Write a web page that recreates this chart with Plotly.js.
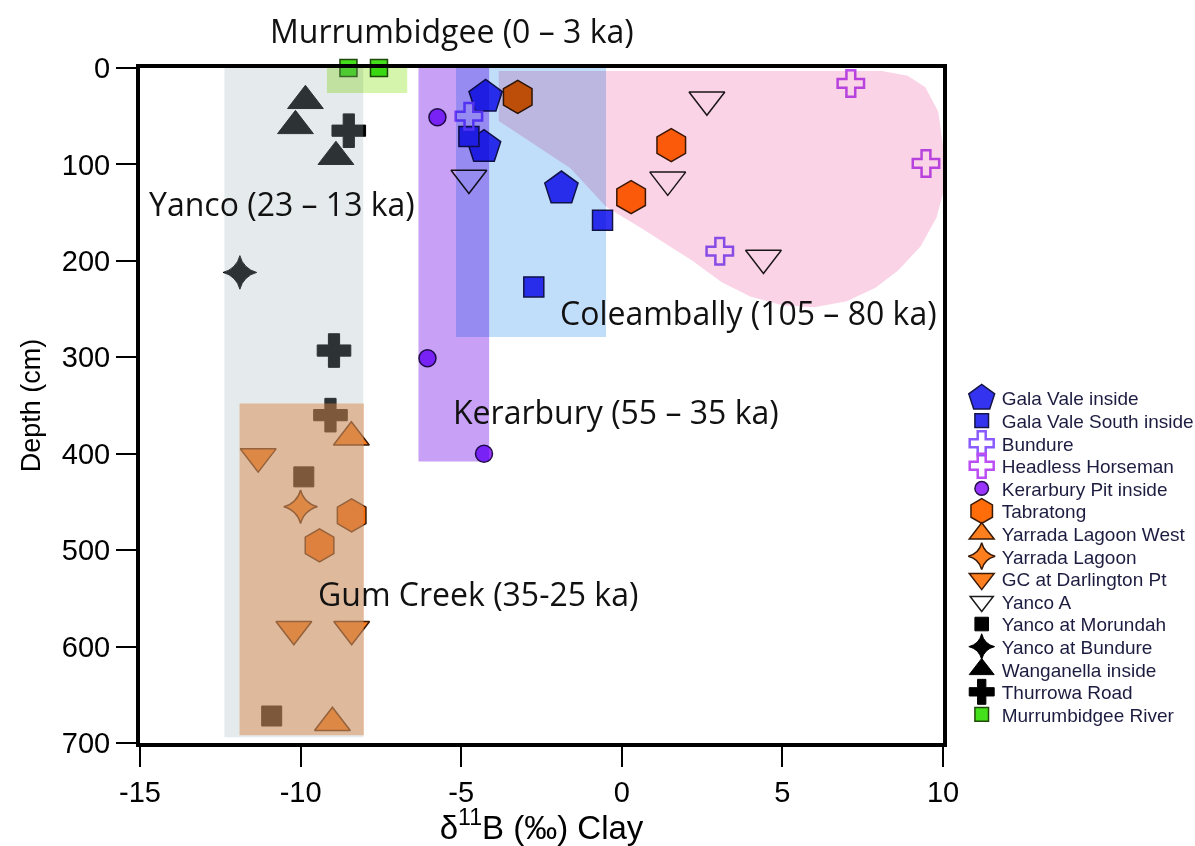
<!DOCTYPE html>
<html>
<head>
<meta charset="utf-8">
<script src="https://cdn.plot.ly/plotly-3.0.1.min.js"></script>
<style>
  html, body { margin: 0; padding: 0; background: #fff; }
  #chart { width: 1195px; height: 846px; }
</style>
</head>
<body>
<div id="chart"></div>
<script>
// ---------------- data ----------------
const galaValeX = [-4.24, -4.29, -1.88];
const galaValeY = [30, 82, 125];
const galaValeSouthX = [-4.76, -0.60, -2.74];
const galaValeSouthY = [71, 158, 227];
const bundureX = [-4.76, 3.05];
const bundureY = [50, 190];
const headlessX = [7.13, 9.47];
const headlessY = [16, 99];
const kerarburyX = [-5.74, -6.05, -4.29];
const kerarburyY = [51, 301, 400];
const tabratongX = [-3.24, 1.54, 0.29, -8.41, -9.41];
const tabratongY = [30, 80, 134, 464, 495];
const yarradaWestX = [-8.42, -9.01];
const yarradaWestY = [383, 679];
const yarradaX = [-10.0];
const yarradaY = [455];
const gcDarlingtonX = [-11.32, -10.21, -8.41];
const gcDarlingtonY = [403, 582, 582];
const yancoAX = [-4.76, 2.65, 1.43, 4.41];
const yancoAY = [114, 33, 116, 197];
const yancoMorundahX = [-9.9, -10.9];
const yancoMorundahY = [424, 672];
const yancoBundureX = [-11.89];
const yancoBundureY = [212];
const wanganellaX = [-9.85, -10.16, -8.9];
const wanganellaY = [34, 60, 92];
const thurrowaX = [-8.5, -8.96, -9.07];
const thurrowaY = [65, 293, 360];
const murrumbidgeeX = [-8.51, -7.56];
const murrumbidgeeY = [0, 0];

// age-group regions: [xmin, xmax, depth top, depth bottom]
const regionNames = ['Yanco', 'Murrumbidgee', 'Kerarbury', 'Coleambally', 'Gum Creek'];
const regionX0 = [-12.37, -9.18, -6.33, -5.16, -11.9];
const regionX1 = [-8.05, -6.68, -4.13, -0.49, -8.03];
const regionY0 = [0, -24, 0, 0, 348];
const regionY1 = [694, 26, 408, 279, 692];

// Headless Horseman / Tabratong field outline (pink blob)
const blobX = [-3.83, 8.1, 8.9, 9.45, 9.85, 10.0, 10.0, 9.8, 9.3, 8.6, 7.9, 7.0, 6.0, 5.0, 4.0, 3.1, 2.2, 1.5, 0.7, -0.49, -1.6, -3.83];
const blobY = [3, 3, 8, 20, 45, 80, 130, 155, 185, 210, 228, 242, 248, 246, 237, 222, 200, 185, 168, 144, 104, 55];

const groupLabels = ['Murrumbidgee (0 – 3 ka)', 'Yanco (23 – 13 ka)', 'Coleambally (105 – 80 ka)', 'Kerarbury (55 – 35 ka)', 'Gum Creek (35-25 ka)'];

// ---------------- traces ----------------
const legendScale = [];
function tr(name, x, y, symbol, size, color, lineColor, lineWidth, legScale) {
  legendScale.push(legScale);
  return {
    type: 'scatter', mode: 'markers', name: name, x: x, y: y, cliponaxis: false,
    marker: { symbol: symbol, size: size, color: color, line: { color: lineColor, width: lineWidth } }
  };
}
const traces = [
  tr('Gala Vale inside', galaValeX, galaValeY, 'pentagon', 35, '#3434f0', '#15154a', 1.5, 1.7),
  tr('Gala Vale South inside', galaValeSouthX, galaValeSouthY, 'square', 20, '#3434f0', '#15154a', 1.5, 0.85),
  tr('Bundure', bundureX, bundureY, 'cross-open', 22, '#8a5cff', '#8a5cff', 2.5, 1.25),
  tr('Headless Horseman', headlessX, headlessY, 'cross-open', 22, '#bb4ff5', '#bb4ff5', 2.5, 1.25),
  tr('Kerarbury Pit inside', kerarburyX, kerarburyY, 'circle', 17, '#9a35ff', '#24104a', 1.5, 0.85),
  tr('Tabratong', tabratongX, tabratongY, 'hexagon', 33, '#ff6c0a', '#3a1a05', 1.5, 1.55),
  tr('Yarrada Lagoon West', yarradaWestX, yarradaWestY, 'triangle-up', 31, '#ff7f1e', '#3a1a05', 1.5, 1.35),
  tr('Yarrada Lagoon', yarradaX, yarradaY, 'star-diamond', 24, '#ff7f1e', '#3a1a05', 1.5, 1.2),
  tr('GC at Darlington Pt', gcDarlingtonX, gcDarlingtonY, 'triangle-down', 31, '#ff7f1e', '#3a1a05', 1.5, 1.35),
  tr('Yanco A', yancoAX, yancoAY, 'triangle-down', 31, '#ffffff', '#1a1a1a', 1.5, 1.25),
  tr('Yanco at Morundah', yancoMorundahX, yancoMorundahY, 'square', 20, '#000000', '#000000', 1, 0.85),
  tr('Yanco at Bundure', yancoBundureX, yancoBundureY, 'star-diamond', 24, '#000000', '#000000', 1, 1.15),
  tr('Wanganella inside', wanganellaX, wanganellaY, 'triangle-up', 31, '#000000', '#000000', 1, 1.35),
  tr('Thurrowa Road', thurrowaX, thurrowaY, 'cross', 28, '#000000', '#000000', 1, 1.3),
  tr('Murrumbidgee River', murrumbidgeeX, murrumbidgeeY, 'square', 17, '#45e01c', '#1f4a0a', 1.5, 0.85)
];

// ---------------- shapes ----------------
const regionFill = ['rgb(160,182,190)', 'rgb(214,245,172)', 'rgb(200,160,246)', 'rgb(192,221,250)', 'rgb(215,130,65)'];
const regionOpacity = [0.28, 1, 1, 1, 0.48];
const regionBlend = ['normal', 'multiply', 'multiply', 'multiply', 'normal'];
const shapes = [];
const blends = [];
function addRect(i) {
  shapes.push({ type: 'rect', layer: 'above', xref: 'x', yref: 'y',
    x0: regionX0[i], x1: regionX1[i], y0: regionY0[i], y1: regionY1[i],
    fillcolor: regionFill[i], opacity: regionOpacity[i], line: { width: 0 } });
  blends.push(regionBlend[i]);
}
addRect(0); addRect(1); addRect(2); addRect(3);
let blobPath = 'M ' + blobX.map((x, i) => x + ',' + blobY[i]).join(' L ') + ' Z';
shapes.push({ type: 'path', layer: 'above', xref: 'x', yref: 'y', path: blobPath,
  fillcolor: 'rgb(250,211,230)', opacity: 1, line: { width: 0 } });
blends.push('multiply');
addRect(4);

// ---------------- annotations ----------------
const labelFont = { family: 'Open Sans, sans-serif', size: 32, color: '#111' };
function lab(text, x, y, yref) {
  return { text: text, x: x, y: y, xref: 'x', yref: yref, xanchor: 'center', yanchor: 'middle', showarrow: false, font: labelFont };
}
const annotations = [
  lab(groupLabels[0], -5.28, 1.056, 'paper'),
  lab(groupLabels[1], -10.59, 141, 'y'),
  lab(groupLabels[2], 3.94, 254, 'y'),
  lab(groupLabels[3], -0.17, 356, 'y'),
  lab(groupLabels[4], -4.49, 545, 'y')
];

const tickFont = { family: 'Liberation Sans, Arial, sans-serif', size: 29, color: '#000' };
const layout = {
  width: 1195, height: 846,
  margin: { l: 140, r: 252, t: 68, b: 103, pad: 0, autoexpand: false },
  paper_bgcolor: '#fff', plot_bgcolor: '#fff',
  showlegend: true,
  legend: {
    x: 1.0233, xanchor: 'left', y: 0.539, yanchor: 'top',
    font: { family: 'Liberation Sans, Arial, sans-serif', size: 19, color: '#1c1c40' },
    bgcolor: 'rgba(0,0,0,0)', borderwidth: 0
  },
  xaxis: {
    range: [-15, 10], tickvals: [-15, -10, -5, 0, 5, 10], ticktext: ['-15', '-10', '-5', '0', '5', '10'],
    showgrid: false, zeroline: false, showline: true, mirror: true, linewidth: 4, linecolor: '#000',
    ticks: 'outside', ticklen: 20, tickwidth: 2, tickcolor: '#000', tickfont: tickFont,
    title: { text: 'δ<sup>11</sup>B (‰) Clay', font: { family: 'Liberation Sans, Arial, sans-serif', size: 33, color: '#000' }, standoff: 10 }
  },
  yaxis: {
    range: [700, 0], tickvals: [0, 100, 200, 300, 400, 500, 600, 700],
    showgrid: false, zeroline: false, showline: true, mirror: true, linewidth: 4, linecolor: '#000',
    ticks: 'outside', ticklen: 20, tickwidth: 2, tickcolor: '#000', tickfont: tickFont,
    title: { text: 'Depth (cm)', font: { family: 'Liberation Sans, Arial, sans-serif', size: 27, color: '#000' }, standoff: 14 }
  },
  shapes: shapes,
  annotations: annotations
};

Plotly.newPlot('chart', traces, layout, { displayModeBar: false, staticPlot: true }).then(function (gd) {
  // blending of the shaded age regions (applied on the clipped shape group)
  gd.querySelectorAll('.shapelayer path').forEach(function (p) {
    const k = +p.getAttribute('data-index');
    const mode = blends[k];
    if (mode) {
      const g = p.parentNode && p.parentNode.classList && p.parentNode.classList.contains('shape-group') ? p.parentNode : p;
      g.style.mixBlendMode = mode;
    }
  });
  // tighter legend rows and reference-like legend symbol sizes
  const items = gd.querySelectorAll('.legend .traces');
  let y0 = null;
  items.forEach(function (el, i) {
    const m = /translate\(\s*([-\d.]+)[ ,]+([-\d.]+)\s*\)/.exec(el.getAttribute('transform') || '');
    if (m) {
      if (y0 === null) y0 = +m[2];
      el.setAttribute('transform', 'translate(' + m[1] + ',' + (y0 + i * 22.6) + ')');
    }
    const k = legendScale[i] || 1;
    el.querySelectorAll('path.scatterpts').forEach(function (p) {
      p.setAttribute('transform', (p.getAttribute('transform') || '') + ' scale(' + k + ')');
      p.style.vectorEffect = 'non-scaling-stroke';
    });
  });
});
</script>
</body>
</html>
